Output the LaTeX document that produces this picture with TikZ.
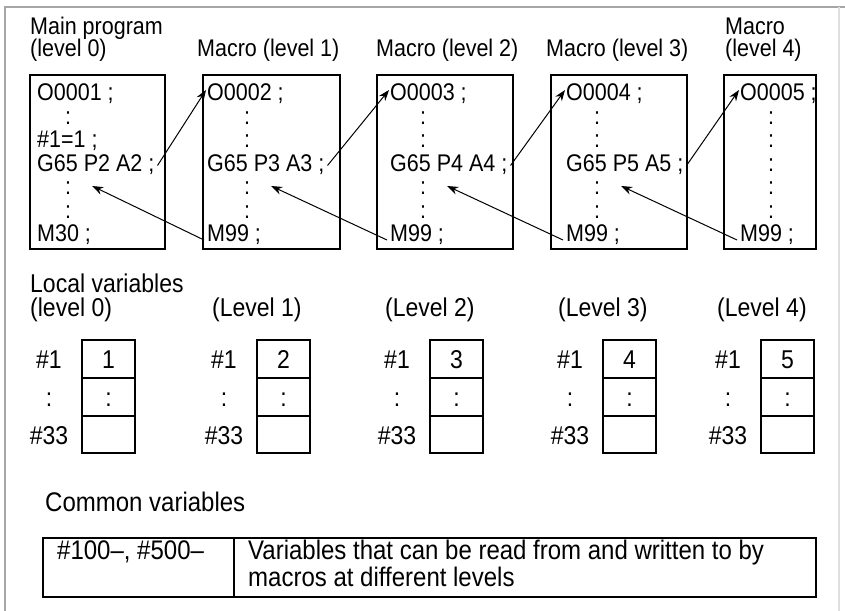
\documentclass[tikz,border=0pt]{standalone}
\usepackage{fontspec}
\setmainfont{Liberation Sans}
\usetikzlibrary{arrows.meta}

\tikzset{
  tall/.style={yscale=1.12, transform shape},
  code/.style={tall, anchor=west, inner sep=0pt, font=\fontsize{21.5}{21.5}\selectfont,
    text height=15.4pt, text depth=0pt},
  dots/.style={code, anchor=center},
  head/.style={tall, anchor=west, inner sep=0pt, font=\fontsize{21.5}{21.5}\selectfont,
    text height=15.4pt, text depth=0pt},
  varlabel/.style={tall, anchor=center, inner sep=0pt, font=\fontsize{23}{23}\selectfont,
    text height=16.5pt, text depth=0pt},
  lower/.style={varlabel, anchor=west},
  common/.style={lower, font=\fontsize{24}{24}\selectfont, text height=17.2pt},
  prog/.style={draw, line width=1.8pt},
  cell/.style={draw, line width=1.8pt},
  call/.style={-{Stealth[length=11pt,width=8pt]}, line width=1pt},
  frame/.style={gray!70, line width=1.5pt},
}

\begin{document}
\begin{tikzpicture}[x=1pt,y=-1pt]
  \useasboundingbox (0,0) rectangle (845,610);
  \clip (0,0) rectangle (845,610);

  % outer frame
  \draw[frame] (5,620) -- (5,7) -- (850,7);
  \draw[frame, gray!25] (839,7) -- (839,620);

  % headings
  \node[head] (hmain) at (30,26) {Main program};
  \node[head] (hlev0) at (30,48) {(level 0)};
  \node[head] (hlev1) at (197,48) {Macro (level 1)};
  \node[head] (hlev2) at (376,48) {Macro (level 2)};
  \node[head] (hlev3) at (546,48) {Macro (level 3)};
  \node[head] (hmac4) at (725,26) {Macro};
  \node[head] (hlev4) at (725,48) {(level 4)};

  % program boxes
  \foreach \i/\l/\r in {0/30/165, 1/203/340, 2/377/513, 3/551/687, 4/724/816}
    \draw[prog] (\l,75) rectangle (\r,249);

  \foreach \i/\x/\name in {0/37/O0001, 1/207/O0002, 2/390/O0003, 3/566/O0004, 4/740/O0005}
    \node[code] (o\i) at (\x,92) {\name{} ;};
  \node[code] (m0) at (37,233) {M30 ;};
  \foreach \i/\x in {1/207, 2/390, 3/566, 4/740}
    \node[code] (m\i) at (\x,233) {M99 ;};
  \node[code] (n0) at (37,139) {\#1=1 ;};
  \foreach \i/\x/\p in {0/37/2, 1/207/3, 2/390/4, 3/566/5}
    \node[code] (g\i) at (\x,162.5) {G65 P\p{} A\p{} ;};

  % colon rows
  \foreach \i/\x in {0/68, 1/247, 2/423, 3/597, 4/771} {
    \node[dots] (ca\i) at (\x,115.5) {:};
    \node[dots] (c\i) at (\x,186) {:};
    \node[dots] (cb\i) at (\x,209.5) {:};
  }
  \foreach \i/\x in {1/247, 2/423, 3/597, 4/771}
    \node[dots] (cc\i) at (\x,139) {:};
  \node[dots] (cd4) at (771,162.5) {:};

  % calls and returns
  \foreach \i/\j in {0/1, 1/2, 2/3, 3/4} {
    \draw[call] ([xshift=3pt,yshift=-3pt]g\i.east) -- ([xshift=-1pt,yshift=2pt]o\j.west);
    \draw[call] ([xshift=-3pt,yshift=-7pt]m\j.west) -- ([xshift=21pt]c\i.east);
  }

  % local variables
  \node[lower] (loc) at (30,283) {Local variables};
  \foreach \i/\x/\t in {0/30/{(level 0)}, 1/212/{(Level 1)}, 2/385/{(Level 2)},
                        3/558/{(Level 3)}, 4/717/{(Level 4)}}
    \node[lower] (lh\i) at (\x,307) {\t};

  \foreach \i/\x/\v in {0/82/1, 1/257/2, 2/430/3, 3/603/4, 4/761/5} {
    \draw[cell] (\x,340) rectangle (\x+53,453);
    \draw[cell] (\x,378) -- (\x+53,378) (\x,416) -- (\x+53,416);
    \node[varlabel] (va\i) at (\x+26.5,359) {\v};
    \node[varlabel] (vb\i) at (\x+26.5,397) {:};
    \node[varlabel] (la\i) at (\x-33,359) {\#1};
    \node[varlabel] (lb\i) at (\x-33,397) {:};
    \node[varlabel] (lc\i) at (\x-33,435) {\#33};
  }

  % common variables
  \node[common] (com) at (45,502) {Common variables};
  \draw[cell] (43,538) rectangle (816,597);
  \draw[cell] (234,538) -- (234,597);
  \node[common] (cnum) at (57,550) {\#100–, \#500–};
  \node[common] (ctxt1) at (248,550) {Variables that can be read from and written to by};
  \node[common] (ctxt2) at (248,577) {macros at different levels};
\end{tikzpicture}
\end{document}
